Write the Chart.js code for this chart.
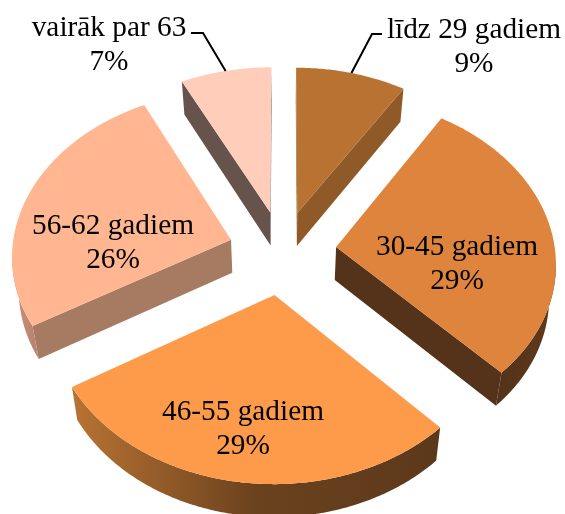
<!DOCTYPE html>
<html>
<head>
<meta charset="utf-8">
<style>
  html, body { margin: 0; padding: 0; background: #fff; }
  canvas { display: block; }
</style>
<script src="https://cdn.jsdelivr.net/npm/chart.js@4/dist/chart.umd.js"></script>
</head>
<body>
<canvas id="pie" width="565" height="514"></canvas>
<script>
const categories = ['līdz 29 gadiem', '30-45 gadiem', '46-55 gadiem', '56-62 gadiem', 'vairāk par 63'];
const shares = [9, 28.8, 28.7, 26.1, 7.4];
const faceColors = ['#b87333', '#de843d', '#fd9b4b', '#ffb691', '#ffcdb9'];
const sideColors = ['#8f5a28', '#54331a', '#66401d', '#a67b62', '#66534b'];
const rimColors = [
  ['#8f5a28', '#8f5a28'],
  ['#54331a', '#5f3a1b'],
  ['#b87333', '#6b421e', '#5c381b'],
  ['#cf9379', '#b98570'],
  ['#66534b', '#66534b']
];
const sliceOffsets = [54, 54, 58, 54, 54];
// label centres and line height, in canvas px
const labelPos = [[474, 30], [457, 247], [243, 412], [113, 226], [109, 28]];
const lineGap = 34;
// where the leader line elbows and ends, only the two outer slices have one
const leaders = { 0: [[372, 34], [382, 34]], 4: [[203, 33], [191, 33]] };

const TILT = 0.75;
const PERSPECTIVE = 0.0004;
const DEPTH = 33;
const TAPER = 0.975;

// pie plane -> screen, near side gets bigger
function project(cx, cy, u, v) {
  const k = 1 / (1 - PERSPECTIVE * v);
  return { x: cx + u * k, y: cy + v * TILT * k };
}

function fillPoly(ctx, pts, style) {
  ctx.fillStyle = style;
  ctx.beginPath();
  pts.forEach((p, i) => (i ? ctx.lineTo(p.x, p.y) : ctx.moveTo(p.x, p.y)));
  ctx.closePath();
  ctx.fill();
}

function drawSlice(ctx, arc, i) {
  const { x: cx, y: cy, startAngle, endAngle, outerRadius: R } = arc;
  const mid = (startAngle + endAngle) / 2;
  const off = arc.options.offset;
  const ou = Math.cos(mid) * off;
  const ov = Math.sin(mid) * off;
  const apex = project(cx, cy, ou, ov);
  // the base of the wall leans in a little, same perspective as the face
  const down = (p) => ({ x: cx + (p.x - cx) * TAPER, y: p.y + DEPTH });

  const rim = [];
  const steps = Math.ceil((endAngle - startAngle) / 0.01);
  for (let s = 0; s <= steps; s++) {
    const a = startAngle + (endAngle - startAngle) * s / steps;
    rim.push(project(cx, cy, ou + Math.cos(a) * R, ov + Math.sin(a) * R));
  }

  // walls hang below the face, only edges running leftwards face the viewer
  const first = rim[0];
  const last = rim[rim.length - 1];
  if (first.x < apex.x) fillPoly(ctx, [apex, first, down(first), down(apex)], sideColors[i]);
  if (apex.x < last.x) fillPoly(ctx, [last, apex, down(apex), down(last)], sideColors[i]);

  const run = rim.filter((p, s) => (s < rim.length - 1 && rim[s + 1].x < p.x) || (s > 0 && p.x < rim[s - 1].x));
  if (run.length > 1) {
    const minX = Math.min(...run.map((p) => p.x));
    const maxX = Math.max(...run.map((p) => p.x));
    const grad = ctx.createLinearGradient(minX, 0, maxX, 0);
    rimColors[i].forEach((c, n) => grad.addColorStop(n / (rimColors[i].length - 1), c));
    fillPoly(ctx, run.concat(run.map(down).reverse()), grad);
  }

  fillPoly(ctx, [apex].concat(rim), arc.options.backgroundColor);

  if (leaders[i]) {
    const a = project(cx, cy, ou + Math.cos(mid) * R, ov + Math.sin(mid) * R);
    ctx.strokeStyle = '#000';
    ctx.lineWidth = 2;
    ctx.beginPath();
    ctx.moveTo(a.x, a.y);
    leaders[i].forEach((p) => ctx.lineTo(p[0], p[1]));
    ctx.stroke();
  }
}

const tiltedPie = {
  id: 'tiltedPie',
  beforeDatasetDraw(chart, args) {
    const ctx = chart.ctx;
    const arcs = args.meta.data;
    ctx.save();
    arcs.forEach((arc, i) => drawSlice(ctx, arc, i));
    ctx.restore();
    return false; // slices are done, skip the flat arcs
  },
  afterDatasetsDraw(chart) {
    const ctx = chart.ctx;
    ctx.save();
    ctx.fillStyle = '#000';
    ctx.font = '29.3px "Liberation Serif"';
    ctx.textAlign = 'center';
    ctx.textBaseline = 'middle';
    categories.forEach((name, i) => {
      const [x, y] = labelPos[i];
      ctx.fillText(name, x, y);
      ctx.fillText(Math.round(shares[i]) + '%', x, y + lineGap);
    });
    ctx.restore();
  }
};

new Chart(document.getElementById('pie').getContext('2d'), {
  type: 'pie',
  data: {
    labels: categories,
    datasets: [{
      data: shares,
      backgroundColor: faceColors,
      borderWidth: 0,
      offset: sliceOffsets,
      hoverOffset: 0,
      radius: 219
    }]
  },
  options: {
    responsive: false,
    animation: false,
    layout: { padding: { bottom: 12 } },
    plugins: { legend: { display: false }, tooltip: { enabled: false } }
  },
  plugins: [tiltedPie]
});
</script>
</body>
</html>
